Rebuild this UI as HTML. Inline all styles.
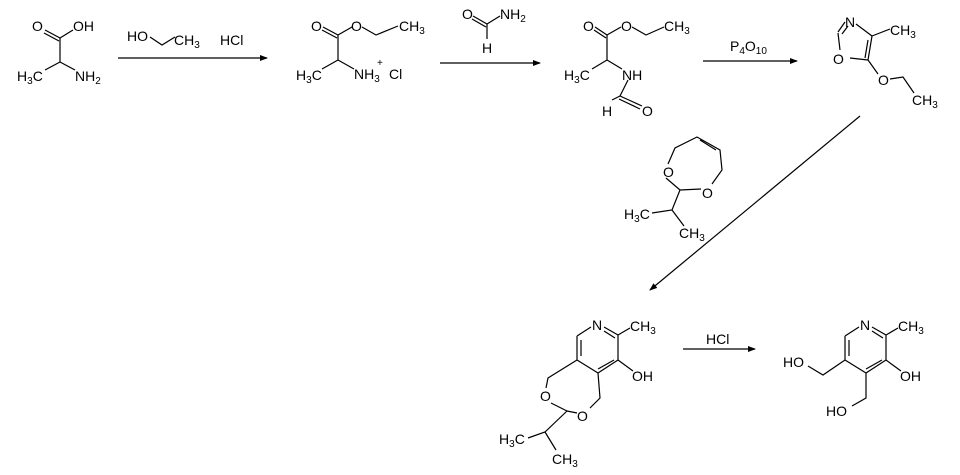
<!DOCTYPE html>
<html><head><meta charset="utf-8"><style>
html,body{margin:0;padding:0;background:#fff;}
svg{display:block}
text{font-family:"Liberation Sans",Arial,sans-serif;font-size:14px;fill:#000}
.s{font-size:10px}
</style></head><body>
<svg width="960" height="475" viewBox="0 0 960 475" xmlns="http://www.w3.org/2000/svg">
<defs><marker id="a" markerWidth="8" markerHeight="6" refX="7" refY="3" orient="auto" markerUnits="userSpaceOnUse"><path d="M0,0L8,3L0,6z" fill="#000"/></marker></defs>
<g stroke="#000" stroke-width="1.2" fill="none">
<path d="M45,30L60,38M44,33L59,41M60,38L73,30M60,38L60,62M60,62L45,70M60,62L75,70"/>
<path d="M118,58L267,58" marker-end="url(#a)"/>
<path d="M150,37L162,45L175,37"/>
<path d="M323,27L338,35M322,30L337,38M338,35L352,27M362,27L376,35L398,26M338,35L338,60M338,60L322,69M338,60L354,69"/>
<path d="M440,63L540,63" marker-end="url(#a)"/>
<path d="M473,16L487,24M472,19L486,27M487,24L500,16M487,24L487,39"/>
<path d="M595,27L607,35M594,30L606,38M607,35L621,27M632,27L646,35L664,27M607,35L607,60M607,60L592,69M607,60L622,69M628,80L620,96M612,100L620,96M620,96L642,106M619,99L640,109"/>
<path d="M703,61L797,61" marker-end="url(#a)"/>
<path d="M845,22L838,32M848,26L842,34M838,33L840,50M856,24L872,36M872,36L868,60M868,40L865,58M868,60L850,58M872,36L890,29M868,60L878,74M890,79L903,77L914,93"/>
<path d="M860,116L650,290" marker-end="url(#a)"/>
<path d="M668,164L675,148L697,137L720,150L722,170L712,184M700,140L716,150M666,178L680,190L701,189M680,190L672,210L652,213M672,210L684,226"/>
<path d="M577,336L591,327M604,327L618,335M604,331L615,338M618,335L618,360M618,360L598,373M614,360L598,369M598,373L577,360M577,360L577,336M581,356L581,340M618,335L630,328M618,360L633,371M577,360L548,378L546,388M598,373L600,398L590,408M577,413L567,411M551,403L567,411M567,411L545,432L528,438M545,432L556,450"/>
<path d="M683,349L755,349" marker-end="url(#a)"/>
<path d="M845,336L859,327M872,327L886,335M872,331L883,338M886,335L886,360M886,360L866,373M882,360L866,369M866,373L845,360M845,360L845,336M849,356L849,340M886,335L898,328M886,360L901,371M845,360L823,375L808,366M866,373L866,398L852,406"/>
</g>
<g>
<text x="32" y="31">O</text><text x="73" y="31">OH</text>
<text x="17" y="81">H<tspan class="s" dy="3">3</tspan><tspan dy="-3">C</tspan></text>
<text x="75" y="81">NH<tspan class="s" dy="3">2</tspan></text>
<text x="127" y="41">HO</text><text x="174" y="45">CH<tspan class="s" dy="3">3</tspan></text>
<text x="220" y="45">HCl</text>
<text x="311" y="31">O</text><text x="351" y="31">O</text>
<text x="399" y="31">CH<tspan class="s" dy="3">3</tspan></text>
<text x="296" y="80">H<tspan class="s" dy="3">3</tspan><tspan dy="-3">C</tspan></text>
<text x="354" y="79">NH<tspan class="s" dy="3">3</tspan></text><text class="s" x="377" y="66">+</text>
<text x="389" y="79">Cl</text>
<text x="462" y="19">O</text><text x="500" y="19">NH<tspan class="s" dy="3">2</tspan></text>
<text x="482" y="53">H</text>
<text x="583" y="31">O</text><text x="621" y="31">O</text>
<text x="664" y="31">CH<tspan class="s" dy="3">3</tspan></text>
<text x="564" y="80">H<tspan class="s" dy="3">3</tspan><tspan dy="-3">C</tspan></text>
<text x="622" y="80">NH</text>
<text x="602" y="116">H</text><text x="642" y="116">O</text>
<text x="730" y="51">P<tspan class="s" dy="3">4</tspan><tspan dy="-3">O</tspan><tspan class="s" dy="3">10</tspan></text>
<text x="845" y="27">N</text><text x="833" y="64">O</text>
<text x="890" y="35">CH<tspan class="s" dy="3">3</tspan></text>
<text x="878" y="85">O</text>
<text x="912" y="105">CH<tspan class="s" dy="3">3</tspan></text>
<text x="663" y="177">O</text><text x="702" y="198">O</text>
<text x="624" y="219">H<tspan class="s" dy="3">3</tspan><tspan dy="-3">C</tspan></text>
<text x="679" y="238">CH<tspan class="s" dy="3">3</tspan></text>
<text x="592" y="330">N</text>
<text x="630" y="331">CH<tspan class="s" dy="3">3</tspan></text>
<text x="632" y="381">OH</text>
<text x="540" y="401">O</text><text x="577" y="421">O</text>
<text x="499" y="444">H<tspan class="s" dy="3">3</tspan><tspan dy="-3">C</tspan></text>
<text x="552" y="464">CH<tspan class="s" dy="3">3</tspan></text>
<text x="706" y="344">HCl</text>
<text x="860" y="330">N</text>
<text x="898" y="331">CH<tspan class="s" dy="3">3</tspan></text>
<text x="900" y="381">OH</text>
<text x="783" y="367">HO</text>
<text x="826" y="416">HO</text>
</g>
</svg>
</body></html>
